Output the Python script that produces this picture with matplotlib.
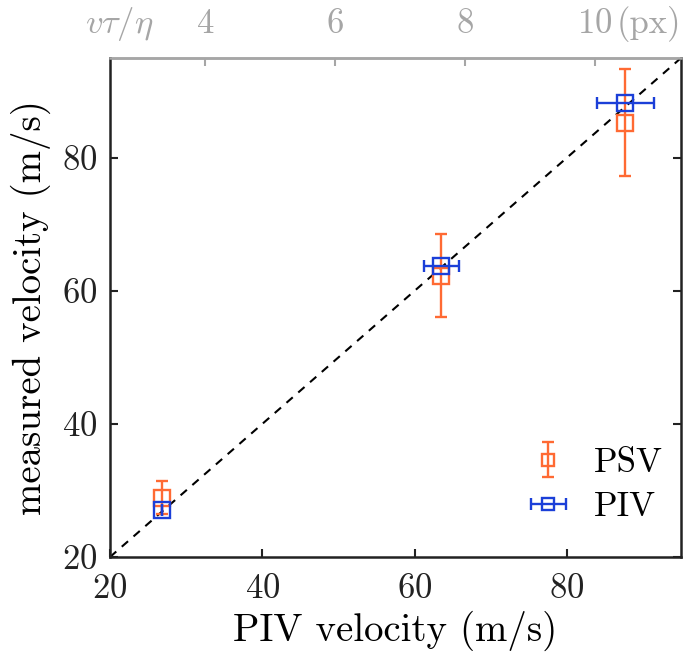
import matplotlib
matplotlib.use("Agg")
import matplotlib.pyplot as plt
import numpy as np

plt.rcParams['font.family'] = 'serif'
plt.rcParams['font.serif'] = ['cmr10']
plt.rcParams['mathtext.fontset'] = 'cm'
plt.rcParams['axes.formatter.use_mathtext'] = True

# data
piv_x = [26.8, 63.5, 87.7]
piv_y = [27.1, 63.8, 88.2]
piv_xerr = [0.0, 2.3, 3.7]

psv_x = [26.8, 63.5, 87.7]
psv_y = [28.9, 62.3, 85.3]
psv_yerr = [2.5, 6.2, 8.0]

top_ticks = [4, 6, 8, 10]

orange = '#ff6a33'
blue = '#1b3fd8'
grey = '#a6a6a6'
dark = '#222222'

fig = plt.figure(figsize=(6.87, 6.62), dpi=100)
ax = fig.add_axes([110/687, 105/662, 571/687, 499/662])

ax.plot([20, 95], [20, 95], 'k--', lw=1.5, dashes=(4, 3.5), zorder=1)

ax.errorbar(psv_x, psv_y, yerr=psv_yerr, fmt='s', color=orange, mfc='none',
            ms=12, mew=1.7, elinewidth=1.7, capsize=4.5, capthick=1.7,
            label='PSV', zorder=2)
ax.errorbar(piv_x, piv_y, xerr=piv_xerr, fmt='s', color=blue, mfc='none',
            ms=12, mew=1.7, elinewidth=1.7, capsize=4.5, capthick=1.7,
            label='PIV', zorder=3)

ax.set_xlim(20, 95)
ax.set_ylim(20, 95)
ax.set_xticks([20, 40, 60, 80])
ax.set_yticks([20, 40, 60, 80])
ax.tick_params(axis='x', direction='in', length=6, width=1.5, labelsize=25,
               pad=12, colors=dark)
ax.tick_params(axis='y', direction='in', length=6, width=1.5, labelsize=25,
               pad=9, right=True, colors=dark)
for s in ['left', 'bottom', 'right']:
    ax.spines[s].set_linewidth(1.8)
    ax.spines[s].set_color(dark)
ax.spines['top'].set_color(grey)
ax.spines['top'].set_linewidth(1.8)

ax.set_xlabel('PIV velocity (m/s)', fontsize=28, labelpad=4)
ax.set_ylabel('measured velocity (m/s)', fontsize=28, labelpad=8)

# top axis: displacement in pixels
def fwd(v):
    return (v + 1.6) / 8.53

def inv(p):
    return p * 8.53 - 1.6

sec = ax.secondary_xaxis('top', functions=(fwd, inv))
sec.set_xticks(top_ticks)
sec.tick_params(direction='in', length=6, width=1.5, labelsize=25, pad=13,
                colors=grey)
sec.spines['top'].set_color(grey)
sec.spines['top'].set_linewidth(1.8)
fig.text(85/687, 1 - 24/662, r'$v\tau/\eta$', fontsize=25, color=grey,
         ha='left', va='center')
fig.text(617/687, 1 - 24/662, '(px)', fontsize=25, color=grey,
         ha='left', va='center')

ax.legend(loc='lower right', frameon=False, fontsize=25, markerscale=0.75,
          handlelength=1.0, handletextpad=0.8, labelspacing=0.35,
          borderaxespad=0.3, bbox_to_anchor=(1.01, 0.02))

fig.savefig('out.png', dpi=100)
